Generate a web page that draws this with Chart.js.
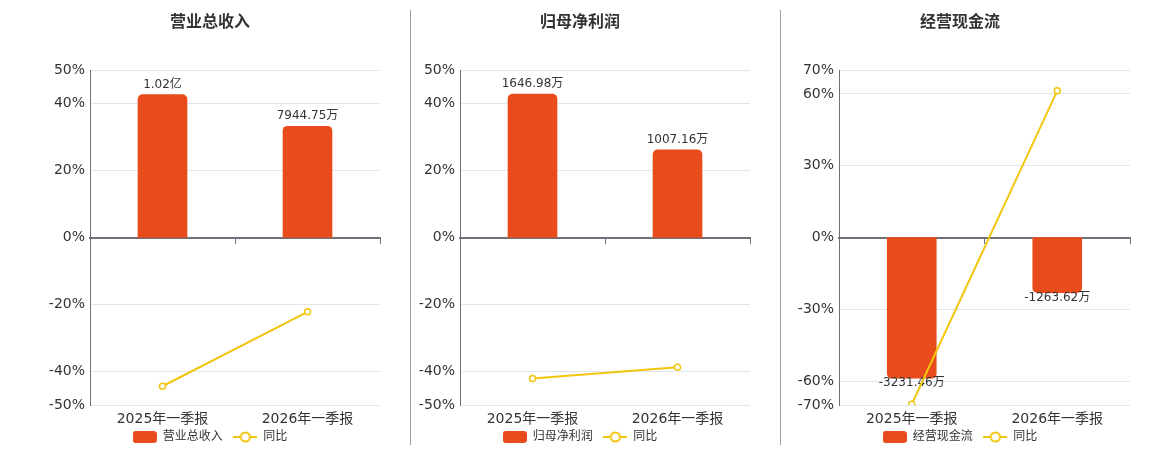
<!DOCTYPE html>
<html>
<head>
<meta charset="utf-8">
<script src="https://cdn.jsdelivr.net/npm/chart.js@4.4.1/dist/chart.umd.min.js"></script>
<style>
  html, body { margin: 0; padding: 0; background: #fff; }
  #wrap { position: relative; width: 1160px; height: 450px; overflow: hidden; }
  canvas { position: absolute; top: 0; }
  .sep { position: absolute; top: 10px; width: 1px; height: 435px; background: #a0a0a0; }
</style>
</head>
<body>
<div id="wrap">
  <canvas id="graphic-revenue" width="400" height="450" style="left:10px"></canvas>
  <canvas id="graphic-profit" width="380" height="450" style="left:390px"></canvas>
  <canvas id="graphic-cashflow" width="380" height="450" style="left:770px"></canvas>
  <div class="sep" style="left:410px"></div>
  <div class="sep" style="left:780px"></div>
</div>
<script>
// valores em 万
const periods = ['2025年一季报', '2026年一季报'];
const revenueValues = [10200, 7944.75];
const revenueYoY = [-44.4, -22.2];
const profitValues = [1646.98, 1007.16];
const profitYoY = [-42.1, -38.7];
const cashflowValues = [-3231.46, -1263.62];
const cashflowYoY = [-69.7, 61.3];
const pctTicksSmall = [50, 40, 20, 0, -20, -40, -50];
const pctTicksLarge = [70, 60, 30, 0, -30, -60, -70];

const barColor = '#E84B1C';
const lineColor = '#F2C50F';
const textColor = '#333';

Chart.defaults.font.family = '"DejaVu Sans", "Noto Sans CJK SC", sans-serif';
Chart.defaults.color = textColor;

function formatWan(v) {
    if (Math.abs(v) >= 10000) return (v / 10000).toFixed(2) + '亿';
    return v.toFixed(2) + '万';
}

// icones da legenda
function makeBarIcon() {
    const c = document.createElement('canvas');
    c.width = 24; c.height = 12;
    const ctx = c.getContext('2d');
    ctx.fillStyle = barColor;
    ctx.beginPath();
    ctx.roundRect(0, 0, 24, 12, 3);
    ctx.fill();
    return c;
}
function makeLineIcon() {
    const c = document.createElement('canvas');
    c.width = 24; c.height = 14;
    const ctx = c.getContext('2d');
    ctx.strokeStyle = lineColor;
    ctx.lineWidth = 2;
    ctx.beginPath();
    ctx.moveTo(0, 7); ctx.lineTo(24, 7);
    ctx.stroke();
    ctx.fillStyle = '#fff';
    ctx.beginPath();
    ctx.arc(12, 7, 4.6, 0, Math.PI * 2);
    ctx.fill();
    ctx.stroke();
    return c;
}
const barIcon = makeBarIcon();
const lineIcon = makeLineIcon();

const barValueLabels = {
    id: 'barValueLabels',
    afterDatasetDraw(chart, args) {
        if (args.index !== 0) return;
        const ctx = chart.ctx;
        const values = chart.data.datasets[0].data;
        ctx.save();
        ctx.font = '12px "DejaVu Sans", "Noto Sans CJK SC", sans-serif';
        ctx.fillStyle = textColor;
        ctx.textAlign = 'center';
        args.meta.data.forEach((bar, i) => {
            const v = values[i];
            if (v >= 0) {
                ctx.textBaseline = 'bottom';
                ctx.fillText(formatWan(v), bar.x, bar.y - 4);
            } else {
                ctx.textBaseline = 'middle';
                ctx.fillText(formatWan(v), bar.x, bar.y + 5);
            }
        });
        ctx.restore();
    }
};

function makePanel(el, title, seriesName, values, yoy, pctTicks, barMax, leftWidth, rightWidth) {
    const top = pctTicks[0];
    const bottom = pctTicks[pctTicks.length - 1];
    return new Chart(document.getElementById(el), {
        type: 'bar',
        data: {
            labels: periods,
            datasets: [{
                label: seriesName,
                data: values,
                yAxisID: 'yBar',
                backgroundColor: barColor,
                borderRadius: 5,
                borderSkipped: 'start',
                barThickness: 49,
                order: 1
            }, {
                type: 'line',
                label: '同比',
                data: yoy,
                yAxisID: 'y',
                borderColor: lineColor,
                borderWidth: 2,
                pointRadius: 3,
                pointBorderWidth: 1.5,
                pointBackgroundColor: '#fff',
                pointBorderColor: lineColor,
                order: 0
            }]
        },
        options: {
            responsive: false,
            maintainAspectRatio: false,
            animation: false,
            scales: {
                x: {
                    offset: true,
                    grid: { display: false, drawTicks: false },
                    border: { display: false },
                    ticks: { font: { size: 14 }, color: textColor, padding: 6 },
                    afterFit: s => { s.height = 23; }
                },
                xZero: {
                    type: 'category',
                    position: { y: 0 },
                    offset: true,
                    z: 1,
                    grid: { offset: true, drawOnChartArea: false, tickLength: 5, color: '#6E7079' },
                    border: { color: '#6E7079', width: 2 },
                    ticks: { display: false }
                },
                y: {
                    position: 'left',
                    min: bottom,
                    max: top,
                    afterBuildTicks: s => {
                        s.ticks = pctTicks.slice().reverse().map(v => ({ value: v }));
                    },
                    afterFit: s => { s.width = leftWidth; },
                    grid: {
                        drawTicks: false,
                        color: ctx => ctx.tick && ctx.tick.value === 0 ? 'rgba(0,0,0,0)' : '#E0E6F1'
                    },
                    border: { color: '#6E7079', width: 1 },
                    ticks: {
                        autoSkip: false,
                        padding: 5,
                        font: { size: 14 },
                        color: textColor,
                        callback: v => v + '%'
                    }
                },
                yBar: {
                    position: 'right',
                    min: -barMax,
                    max: barMax,
                    grid: { display: false },
                    border: { display: false },
                    ticks: { display: false },
                    afterFit: s => { s.width = rightWidth; }
                }
            },
            plugins: {
                title: {
                    display: true,
                    text: title,
                    color: textColor,
                    font: { size: 16, weight: 'bold' },
                    padding: { top: 13, bottom: 37.8 }
                },
                legend: {
                    position: 'bottom',
                    maxHeight: 22,
                    labels: {
                        usePointStyle: true,
                        pointStyleWidth: 24,
                        padding: 3,
                        color: textColor,
                        font: { size: 12 },
                        sort: (a, b) => a.datasetIndex - b.datasetIndex,
                        generateLabels: chart => {
                            const items = Chart.defaults.plugins.legend.labels.generateLabels(chart);
                            items.forEach(it => {
                                if (it.datasetIndex === 0) {
                                    it.pointStyle = barIcon;
                                    it.text = it.text + '  ';
                                } else {
                                    it.pointStyle = lineIcon;
                                }
                            });
                            return items;
                        }
                    }
                },
                tooltip: { enabled: false }
            }
        },
        plugins: [barValueLabels]
    });
}

makePanel('graphic-revenue', '营业总收入', '营业总收入', revenueValues, revenueYoY, pctTicksSmall, 11960, 80, 30);
makePanel('graphic-profit', '归母净利润', '归母净利润', profitValues, profitYoY, pctTicksSmall, 1925, 70, 20);
makePanel('graphic-cashflow', '经营现金流', '经营现金流', cashflowValues, cashflowYoY, pctTicksLarge, 3845, 69, 20);
</script>
</body>
</html>
